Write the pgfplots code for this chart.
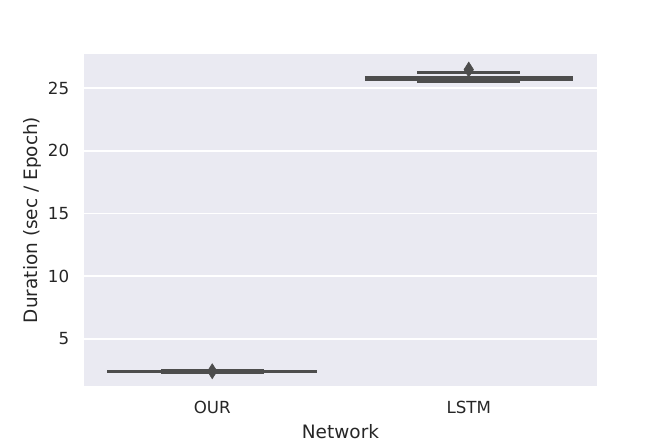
\documentclass[border=0pt]{standalone}
\usepackage{fontspec}
\setmainfont{DejaVu Sans}
\usepackage{pgfplots}
\pgfplotsset{compat=1.18}
\definecolor{bgcol}{HTML}{EAEAF2}
\definecolor{boxgray}{HTML}{4D4D4D}
\definecolor{txtcol}{HTML}{262626}
\begin{document}
\begin{tikzpicture}
\begin{axis}[
    scale only axis,
    width=369.4pt, height=239pt,
    xmin=-0.5, xmax=1.5,
    ymin=1.26, ymax=27.71,
    xtick={0,1}, xticklabels={OUR,LSTM},
    ytick={5,10,15,20,25},
    axis background/.style={fill=bgcol},
    axis line style={draw=none},
    major tick length=0pt,
    ymajorgrids=true,
    grid style={white, line width=1.1pt},
    /pgf/number format/assume math mode=true,
    tick label style={font=\fontsize{12}{14}\selectfont, inner sep=0pt, text=txtcol},
    label style={font=\fontsize{13.3}{15}\selectfont, text=txtcol},
    xticklabel shift=11pt,
    yticklabel shift=10.5pt,
    xlabel={Network},
    ylabel={Duration (sec / Epoch)},
    xlabel style={at={(axis description cs:0.5,-0.139)}, anchor=center},
    ylabel style={at={(axis description cs:-0.1014,0.5)}, anchor=center},
    clip=false,
]
% OUR
\addplot[draw=boxgray, line width=2.4pt] coordinates {(-0.41,2.43)(0.41,2.43)};
\addplot[draw=boxgray, line width=3.6pt] coordinates {(-0.20,2.43)(0.20,2.43)};
\addplot[only marks, mark=diamond*, mark size=5.4pt, color=boxgray, mark options={xscale=0.85}] coordinates {(0,2.43)};
% LSTM
\addplot[draw=boxgray, line width=2.2pt] coordinates {(0.80,26.23)(1.20,26.23)};
\addplot[only marks, mark=diamond*, mark size=5.4pt, color=boxgray, mark options={xscale=0.85}] coordinates {(1,26.47)};
\addplot[draw=boxgray, line width=3.6pt] coordinates {(0.595,25.75)(1.405,25.75)};
\addplot[draw=boxgray, line width=4.8pt] coordinates {(0.80,25.63)(1.20,25.63)};
\path[use as bounding box] (rel axis cs:-0.1637,-0.1717) rectangle (rel axis cs:1.1306,1.1627);
\end{axis}
\end{tikzpicture}
\end{document}
